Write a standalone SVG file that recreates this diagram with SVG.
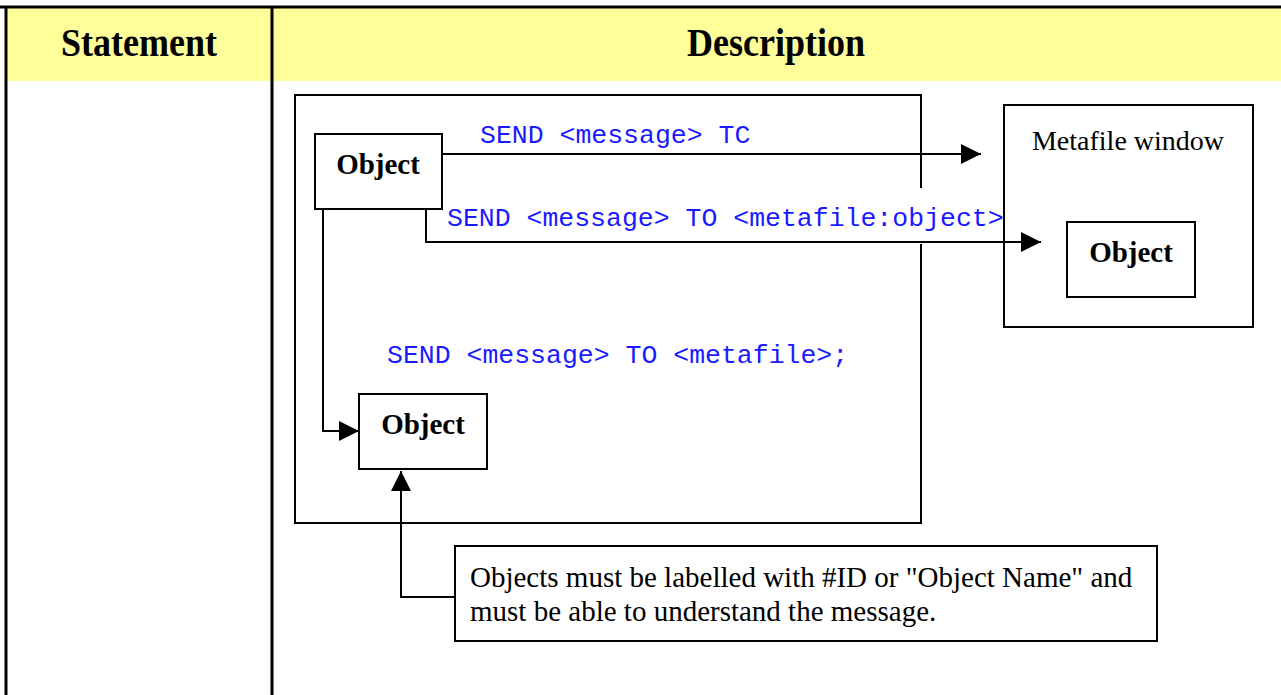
<svg xmlns="http://www.w3.org/2000/svg" width="1281" height="695" viewBox="0 0 1281 695">
<defs>
<style>
.box{fill:#fff;stroke:#000;stroke-width:2}
.line{fill:none;stroke:#000;stroke-width:2}
.hdr{font-family:"Liberation Serif","Times New Roman",serif;font-weight:bold;font-size:40px;fill:#000}
.obj{font-family:"Liberation Serif","Times New Roman",serif;font-weight:bold;font-size:29px;fill:#000}
.txt{font-family:"Liberation Serif","Times New Roman",serif;font-size:28px;fill:#000}
.note{font-family:"Liberation Serif","Times New Roman",serif;font-size:29px;fill:#000}
.code{font-family:"Liberation Mono","Courier New",monospace;font-size:26.5px;fill:#1a1aff}
</style>
<marker id="ah" viewBox="0 0 20 20" refX="20" refY="10" markerWidth="20" markerHeight="20" markerUnits="userSpaceOnUse" orient="auto">
<path d="M0,0 L20,10 L0,20 Z" fill="#000"/>
</marker>
</defs>
<rect width="1281" height="695" fill="#fff"/>
<g id="table">
<rect x="6" y="7" width="1275" height="74" fill="#ffff99"/>
<line x1="0" y1="7" x2="1281" y2="7" stroke="#000" stroke-width="3"/>
<line x1="6" y1="6" x2="6" y2="695" stroke="#000" stroke-width="3"/>
<line x1="272" y1="6" x2="272" y2="695" stroke="#000" stroke-width="3"/>
<text class="hdr" transform="translate(139,56) scale(0.9,1)" text-anchor="middle">Statement</text>
<text class="hdr" transform="translate(776,56) scale(0.9,1)" text-anchor="middle">Description</text>
</g>
<g id="outer-window">
<rect class="box" x="295" y="95" width="626" height="428"/>
</g>
<g id="metafile-window">
<rect class="box" x="1004" y="105" width="249" height="222"/>
<text class="txt" x="1128" y="150" text-anchor="middle">Metafile window</text>
</g>
<g id="object-sender">
<rect class="box" x="315" y="134" width="127" height="75"/>
<text class="obj" x="378" y="174" text-anchor="middle">Object</text>
</g>
<g id="object-metafile">
<rect class="box" x="1067" y="222" width="128" height="75"/>
<text class="obj" x="1131" y="262" text-anchor="middle">Object</text>
</g>
<g id="object-local">
<rect class="box" x="359" y="394" width="128" height="75"/>
<text class="obj" x="423" y="434" text-anchor="middle">Object</text>
</g>
<g id="callout">
<rect class="box" x="455" y="546" width="702" height="95"/>
<text class="note" x="470" y="587">Objects must be labelled with #ID or "Object Name" and</text>
<text class="note" x="470" y="621">must be able to understand the message.</text>
</g>
<g id="connectors">
<line class="line" x1="442" y1="154" x2="981" y2="154" marker-end="url(#ah)"/>
<text class="code" x="480" y="143">SEND &lt;message&gt; TC</text>
<rect x="444" y="188" width="559" height="56" fill="#fff"/>
<polyline class="line" points="426,209 426,242 1041,242" marker-end="url(#ah)"/>
<text class="code" x="447" y="226">SEND &lt;message&gt; TO &lt;metafile:object&gt;</text>
<polyline class="line" points="323,209 323,431 359,431" marker-end="url(#ah)"/>
<text class="code" x="387" y="363">SEND &lt;message&gt; TO &lt;metafile&gt;;</text>
<polyline class="line" points="455,597 401,597 401,471" marker-end="url(#ah)"/>
</g>
</svg>
